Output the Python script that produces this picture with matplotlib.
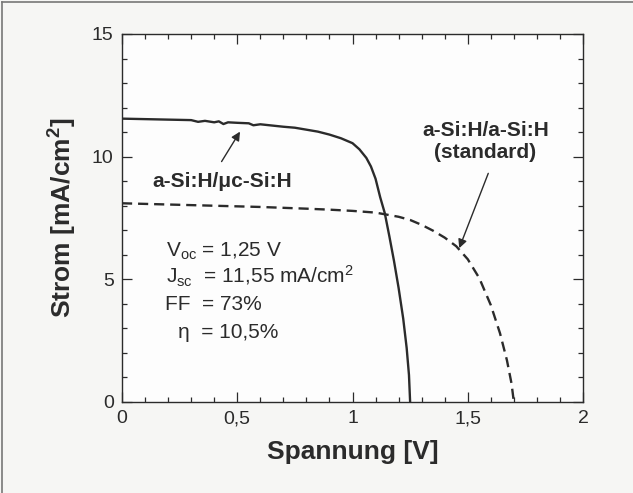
import matplotlib
matplotlib.use("Agg")
import matplotlib.pyplot as plt
from matplotlib.lines import Line2D

plt.rcParams['font.family'] = ['Liberation Sans', 'DejaVu Sans']
plt.rcParams['mathtext.fontset'] = 'custom'
plt.rcParams['mathtext.rm'] = 'Liberation Sans'
plt.rcParams['mathtext.it'] = 'Liberation Sans:italic'
plt.rcParams['mathtext.bf'] = 'Liberation Sans:bold'

# --- data ---
v_micro = [0, 0.05, 0.10, 0.15, 0.20, 0.25, 0.30, 0.33, 0.36, 0.40, 0.42, 0.44,
           0.46, 0.50, 0.55, 0.57, 0.60, 0.65, 0.70, 0.75, 0.80, 0.85, 0.90,
           0.95, 1.00, 1.03, 1.06, 1.08, 1.10, 1.12, 1.14, 1.16, 1.18, 1.20,
           1.22, 1.235, 1.245, 1.25]
j_micro = [11.55, 11.54, 11.53, 11.52, 11.51, 11.50, 11.49, 11.42, 11.46, 11.40,
           11.44, 11.33, 11.40, 11.38, 11.36, 11.28, 11.32, 11.27, 11.22, 11.18,
           11.10, 11.02, 10.90, 10.75, 10.55, 10.30, 9.95, 9.60, 9.10, 8.35,
           7.70, 6.75, 5.75, 4.65, 3.40, 2.20, 1.10, 0.0]

v_std = [0, 0.2, 0.4, 0.6, 0.8, 0.9, 1.0, 1.1, 1.2, 1.25, 1.3, 1.35, 1.4, 1.45,
         1.5, 1.55, 1.6, 1.64, 1.67, 1.69, 1.70]
j_std = [8.10, 8.05, 8.00, 7.95, 7.88, 7.84, 7.79, 7.72, 7.55, 7.42, 7.22, 6.98,
         6.70, 6.35, 5.82, 5.05, 3.95, 2.80, 1.70, 0.75, 0.0]

x_ticks = [0, 0.5, 1, 1.5, 2]
x_ticklabels = ['0', '0,5', '1', '1,5', '2']
y_ticks = [0, 5, 10, 15]
y_ticklabels = ['0', '5', '10', '15']

label_micro = 'a-Si:H/\u03bcc-Si:H'
label_std = 'a-Si:H/a-Si:H\n(standard)'
stats_lines = [r'$\mathregular{V_{oc}}$ = 1,25 V',
               r'$\mathregular{J_{sc}}$  = 11,55 mA/cm$\mathregular{^2}$',
               'FF  = 73%',
               '\u03b7  = 10,5%']

W, H = 633, 493
dark = '#2b2b2b'
fig = plt.figure(figsize=(W / 100, H / 100), dpi=100, facecolor='#f6f6f4')
ax = fig.add_axes([122 / W, (H - 402) / H, 461 / W, 368 / H])
ax.set_facecolor('#fdfdfd')

ax.plot(v_micro, j_micro, color=dark, lw=1.7, solid_joinstyle='round')
ax.plot(v_std, j_std, color=dark, lw=1.7, linestyle=(0, (4.3, 2.5)))

ax.set_xlim(0, 2)
ax.set_ylim(0, 15)
ax.set_xticks(x_ticks)
ax.set_xticklabels(x_ticklabels)
ax.set_yticks(y_ticks)
ax.set_yticklabels(y_ticklabels)
ax.set_xticks([i / 10 for i in range(21)], minor=True)
ax.set_yticks(list(range(16)), minor=True)
ax.tick_params(which='both', direction='in', top=True, right=True, color=dark,
               width=0.9, labelsize=14, labelcolor=dark)
ax.tick_params(which='major', length=7.2, pad=6)
ax.tick_params(which='minor', length=3.6)
for s in ax.spines.values():
    s.set_color(dark)
    s.set_linewidth(1.0)

ax.set_xlabel('Spannung [V]', fontsize=19, fontweight='bold', color=dark, labelpad=9)
ax.set_ylabel('Strom [mA/cm$\\mathregular{^2}$]', fontsize=19, fontweight='bold',
              color=dark, labelpad=9)

ax.text(0.436, 8.76, label_micro, ha='center', va='baseline', fontsize=15,
        fontweight='bold', color=dark)
ax.text(1.576, 9.95, label_std, ha='center', va='baseline', fontsize=15,
        fontweight='bold', color=dark, linespacing=1.2)

arrow = dict(arrowstyle='-|>', color=dark, lw=1.0, mutation_scale=13,
             shrinkA=0, shrinkB=0)
ax.annotate('', xy=(0.512, 11.02), xytext=(0.432, 9.8), arrowprops=arrow)
ax.annotate('', xy=(1.463, 6.27), xytext=(1.589, 9.32), arrowprops=arrow)

stat_x = [0.191, 0.191, 0.186, 0.243]
stat_y = [5.91, 4.85, 3.75, 2.61]
for sx, sy, t in zip(stat_x, stat_y, stats_lines):
    ax.text(sx, sy, t, ha='left', va='baseline', fontsize=15, color=dark)

# figure frame (top and left edges visible in the scan)
fig.add_artist(Line2D([1.5 / W, 1.5 / W], [0, 1 - 1.5 / H], transform=fig.transFigure,
                      color='#777777', lw=1.2))
fig.add_artist(Line2D([1.5 / W, 1], [1 - 1.5 / H, 1 - 1.5 / H], transform=fig.transFigure,
                      color='#777777', lw=1.2))

fig.savefig('out.png', dpi=100, facecolor=fig.get_facecolor())
